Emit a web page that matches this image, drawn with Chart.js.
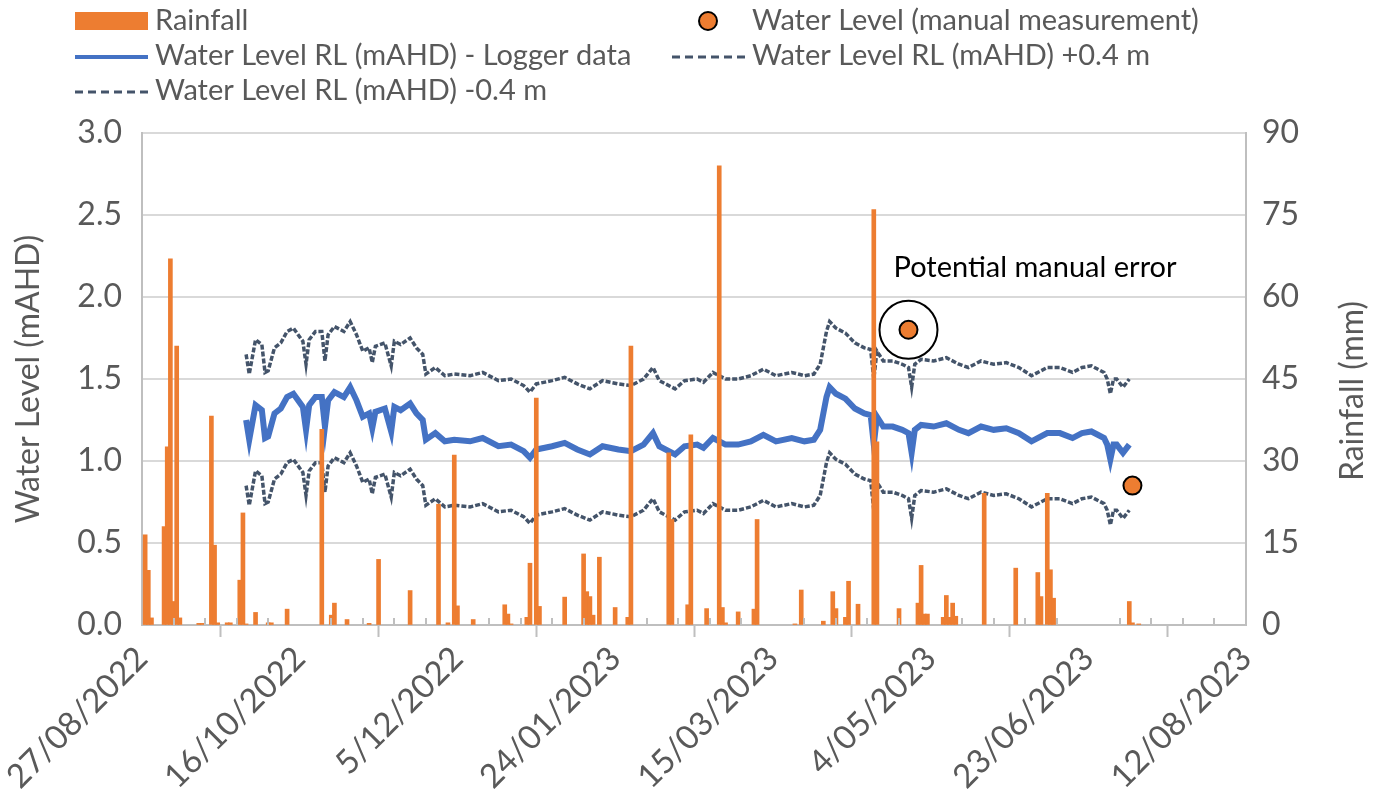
<!DOCTYPE html>
<html>
<head>
<meta charset="utf-8">
<script src="https://cdn.jsdelivr.net/npm/chart.js@4.4.0/dist/chart.umd.min.js"></script>
<style>
  body { margin: 0; background: #fff; }
  #wrap { width: 1386px; height: 806px; }
</style>
</head>
<body>
<div id="wrap"><canvas id="chart" width="1386" height="806"></canvas></div>
<script>
// x values are days counted from 27/08/2022
const startDate = new Date(2022, 7, 27)
const xTicks = [0, 50, 100, 150, 200, 250, 300, 350]

// daily rainfall (mm)
const rainDays = [1, 2, 3, 7, 8, 9, 10, 11, 12, 18, 19, 22, 23, 24, 27, 28, 31, 32, 33, 36,
  40, 41, 46, 57, 60, 61, 65, 72, 75, 85, 94, 97, 99, 100, 105, 115, 116, 117, 122, 123,
  125, 126, 134, 140, 141, 142, 143, 145, 150, 154, 155, 167, 168, 173, 174, 179, 183, 184, 185, 189,
  194, 195, 207, 209, 216, 219, 220, 223, 224, 227, 232, 233, 240, 246, 247, 248, 249, 254, 255, 256,
  257, 258, 267, 277, 284, 285, 287, 288, 289, 313, 314, 316]
const rainMm = [16.5, 10.0, 1.3, 18.0, 32.6, 67.0, 4.3, 51.0, 1.3, 0.3, 0.3, 38.2, 14.6, 0.4, 0.4, 0.4, 8.2, 20.5, 0.2, 2.3,
  0.4, 0.4, 2.9, 35.8, 1.8, 4.0, 1.0, 0.3, 12.0, 6.3, 22.1, 0.4, 31.1, 3.5, 1.0, 3.7, 2.0, 0.2, 1.4, 11.3,
  41.5, 3.4, 5.1, 13.0, 6.1, 5.2, 1.8, 12.4, 3.2, 1.4, 51.0, 31.5, 19.3, 3.7, 34.8, 3.0, 84.0, 3.2, 0.4, 2.4,
  2.9, 19.3, 0.2, 6.4, 0.7, 6.1, 3.0, 1.4, 8.0, 3.8, 76.0, 33.5, 3.0, 4.0, 10.9, 2.0, 2.0, 1.4, 5.4, 1.4,
  4.0, 1.6, 24.1, 10.4, 9.6, 5.2, 24.1, 10.1, 4.9, 4.3, 0.4, 0.2]

// logger water level (mAHD)
const loggerDays = [33, 34, 36, 38, 39, 40, 42, 44, 46, 48, 51, 52, 53, 55, 57, 58, 59, 61, 64, 66,
  68, 70, 72, 73, 74, 77, 79, 80, 82, 85, 87, 89, 90, 93, 96, 99, 104, 108, 113, 117,
  121, 123, 125, 130, 134, 138, 142, 146, 151, 155, 159, 162, 164, 169, 172, 176, 178, 181, 185, 189,
  193, 197, 201, 206, 210, 213, 215, 217, 218, 220, 223, 226, 229, 231, 232, 233, 235, 238, 241, 243,
  244, 245, 247, 251, 255, 259, 262, 266, 270, 274, 278, 282, 287, 291, 295, 298, 301, 305, 306, 307,
  308, 309, 311, 313]
const loggerLevel = [1.25, 1.13, 1.34, 1.31, 1.14, 1.15, 1.29, 1.32, 1.39, 1.41, 1.33, 1.19, 1.34, 1.39, 1.39, 1.21, 1.37, 1.42, 1.39, 1.45,
  1.37, 1.27, 1.29, 1.20, 1.30, 1.32, 1.18, 1.33, 1.31, 1.35, 1.29, 1.25, 1.13, 1.17, 1.12, 1.13, 1.12, 1.14, 1.09, 1.10,
  1.06, 1.02, 1.07, 1.09, 1.11, 1.07, 1.04, 1.09, 1.07, 1.06, 1.10, 1.17, 1.09, 1.04, 1.09, 1.10, 1.08, 1.14, 1.10, 1.10,
  1.12, 1.16, 1.12, 1.14, 1.12, 1.13, 1.19, 1.39, 1.45, 1.41, 1.38, 1.32, 1.29, 1.28, 1.10, 1.27, 1.21, 1.21, 1.19, 1.17,
  1.05, 1.19, 1.22, 1.21, 1.23, 1.19, 1.17, 1.21, 1.19, 1.20, 1.17, 1.12, 1.17, 1.17, 1.14, 1.17, 1.18, 1.14, 1.10, 1.01,
  1.10, 1.10, 1.05, 1.10]
const upperLevel = [1.65, 1.53, 1.74, 1.71, 1.54, 1.55, 1.69, 1.72, 1.79, 1.81, 1.73, 1.59, 1.74, 1.79, 1.79, 1.61, 1.77, 1.82, 1.79, 1.85,
  1.77, 1.67, 1.69, 1.60, 1.70, 1.72, 1.58, 1.73, 1.71, 1.75, 1.69, 1.65, 1.53, 1.57, 1.52, 1.53, 1.52, 1.54, 1.49, 1.50,
  1.46, 1.42, 1.47, 1.49, 1.51, 1.47, 1.44, 1.49, 1.47, 1.46, 1.50, 1.57, 1.49, 1.44, 1.49, 1.50, 1.48, 1.54, 1.50, 1.50,
  1.52, 1.56, 1.52, 1.54, 1.52, 1.53, 1.59, 1.79, 1.85, 1.81, 1.78, 1.72, 1.69, 1.68, 1.50, 1.67, 1.61, 1.61, 1.59, 1.57,
  1.45, 1.59, 1.62, 1.61, 1.63, 1.59, 1.57, 1.61, 1.59, 1.60, 1.57, 1.52, 1.57, 1.57, 1.54, 1.57, 1.58, 1.54, 1.50, 1.41,
  1.50, 1.50, 1.45, 1.50]
const lowerLevel = [0.85, 0.73, 0.94, 0.91, 0.74, 0.75, 0.89, 0.92, 0.99, 1.01, 0.93, 0.79, 0.94, 0.99, 0.99, 0.81, 0.97, 1.02, 0.99, 1.05,
  0.97, 0.87, 0.89, 0.80, 0.90, 0.92, 0.78, 0.93, 0.91, 0.95, 0.89, 0.85, 0.73, 0.77, 0.72, 0.73, 0.72, 0.74, 0.69, 0.70,
  0.66, 0.62, 0.67, 0.69, 0.71, 0.67, 0.64, 0.69, 0.67, 0.66, 0.70, 0.77, 0.69, 0.64, 0.69, 0.70, 0.68, 0.74, 0.70, 0.70,
  0.72, 0.76, 0.72, 0.74, 0.72, 0.73, 0.79, 0.99, 1.05, 1.01, 0.98, 0.92, 0.89, 0.88, 0.70, 0.87, 0.81, 0.81, 0.79, 0.77,
  0.65, 0.79, 0.82, 0.81, 0.83, 0.79, 0.77, 0.81, 0.79, 0.80, 0.77, 0.72, 0.77, 0.77, 0.74, 0.77, 0.78, 0.74, 0.70, 0.61,
  0.70, 0.70, 0.65, 0.70]

// manual dip readings
const manualDays = [243, 314]
const manualLevel = [1.80, 0.85]
const flaggedDays = [243]
const flaggedLevel = [1.80]
const flagText = 'Potential manual error'

const grey = '#595959'
const fontFam = 'Lato'

function pts(xs, ys) {
  return xs.map((x, i) => ({x: x, y: ys[i]}))
}

function dateLabel(v) {
  const d = new Date(startDate.getTime())
  d.setDate(d.getDate() + v)
  const mm = String(d.getMonth() + 1).padStart(2, '0')
  return d.getDate() + '/' + mm + '/' + d.getFullYear()
}

// small inside ticks every 10 days, like excel minor ticks
const minorTicks = {
  id: 'minorTicks',
  afterDatasetsDraw(chart) {
    const xs = chart.scales.x
    const ctx = chart.ctx
    const bottom = chart.chartArea.bottom
    ctx.save()
    ctx.strokeStyle = '#BFBFBF'
    ctx.lineWidth = 2
    for (let d = 10; d < 350; d += 10) {
      if (d % 50 == 0) continue
      const px = Math.round(xs.getPixelForValue(d))
      ctx.beginPath()
      ctx.moveTo(px, bottom)
      ctx.lineTo(px, bottom - 7)
      ctx.stroke()
    }
    ctx.restore()
  }
}

// two column legend at the top
const sheetLegend = {
  id: 'sheetLegend',
  afterDraw(chart) {
    const ctx = chart.ctx
    const ds = chart.data.datasets
    const slots = [[75, 21], [672, 21], [75, 56], [672, 56], [75, 91]]
    ctx.save()
    ctx.font = '29px ' + fontFam
    ctx.textBaseline = 'middle'
    ctx.textAlign = 'left'
    for (let i = 0; i < slots.length; i++) {
      const [x, y] = slots[i]
      const d = ds[i]
      if (d.type == 'bar') {
        ctx.fillStyle = d.backgroundColor
        ctx.fillRect(x, y - 9, 73, 18)
      } else if (d.type == 'scatter') {
        ctx.beginPath()
        ctx.arc(x + 36, y, 9, 0, Math.PI * 2)
        ctx.fillStyle = d.backgroundColor
        ctx.fill()
        ctx.lineWidth = 2
        ctx.strokeStyle = '#000'
        ctx.stroke()
      } else {
        ctx.beginPath()
        ctx.setLineDash(d.borderDash ? [8, 5] : [])
        ctx.lineWidth = d.borderDash ? 3 : 4
        ctx.strokeStyle = d.borderColor
        ctx.moveTo(x, y + 1)
        ctx.lineTo(x + 73, y + 1)
        ctx.stroke()
        ctx.setLineDash([])
      }
      ctx.fillStyle = grey
      ctx.fillText(d.label, x + 80, y)
    }
    ctx.restore()
  }
}

// annotation text + right axis title reading bottom to top
const extraText = {
  id: 'extraText',
  afterDraw(chart) {
    const ctx = chart.ctx
    const px = chart.scales.x.getPixelForValue(flaggedDays[0])
    const py = chart.scales.y.getPixelForValue(flaggedLevel[0])
    ctx.save()
    ctx.font = '29px ' + fontFam
    ctx.fillStyle = '#000'
    ctx.textBaseline = 'middle'
    ctx.fillText(flagText, px - 15, py - 62)
    const r = chart.scales.y1
    ctx.translate(r.right - 33, (r.top + r.bottom) / 2 + 12)
    ctx.rotate(-Math.PI / 2)
    ctx.font = '32px ' + fontFam
    ctx.fillStyle = grey
    ctx.textAlign = 'center'
    ctx.fillText('Rainfall (mm)', 0, 0)
    ctx.restore()
  }
}

const tickFont = {family: fontFam, size: 32}

new Chart(document.getElementById('chart'), {
  type: 'line',
  data: {
    datasets: [
      {type: 'bar', label: 'Rainfall', data: pts(rainDays, rainMm), yAxisID: 'y1',
        backgroundColor: '#ED7D31', barThickness: 4, order: 1},
      {type: 'scatter', label: 'Water Level (manual measurement)', data: pts(manualDays, manualLevel), yAxisID: 'y',
        pointRadius: 9, backgroundColor: '#ED7D31', borderColor: '#000', borderWidth: 2, order: 0},
      {type: 'line', label: 'Water Level RL (mAHD) - Logger data', data: pts(loggerDays, loggerLevel), yAxisID: 'y',
        borderColor: '#4472C4', borderWidth: 6, pointRadius: 0, tension: 0, order: 2},
      {type: 'line', label: 'Water Level RL (mAHD) +0.4 m', data: pts(loggerDays, upperLevel), yAxisID: 'y',
        borderColor: '#44546A', borderWidth: 3.5, borderDash: [5, 2], pointRadius: 0, tension: 0, order: 3},
      {type: 'line', label: 'Water Level RL (mAHD) -0.4 m', data: pts(loggerDays, lowerLevel), yAxisID: 'y',
        borderColor: '#44546A', borderWidth: 3.5, borderDash: [5, 2], pointRadius: 0, tension: 0, order: 3},
      {type: 'scatter', label: 'flag', data: pts(flaggedDays, flaggedLevel), yAxisID: 'y',
        pointRadius: 29, backgroundColor: 'rgba(0,0,0,0)', borderColor: '#000', borderWidth: 2, order: 0}
    ]
  },
  options: {
    responsive: false,
    animation: false,
    layout: {padding: {top: 133, left: 0, right: 0, bottom: 0}},
    plugins: {legend: {display: false}, tooltip: {enabled: false}},
    scales: {
      x: {
        type: 'linear', min: 0, max: 350, offset: false,
        afterBuildTicks: (s) => { s.ticks = xTicks.map(v => ({value: v})) },
        ticks: {autoSkip: false, minRotation: 45, maxRotation: 45, color: grey, font: {family: fontFam, size: 33}, padding: 2,
          callback: (v) => dateLabel(v)},
        grid: {drawOnChartArea: false, drawTicks: true, tickLength: 12, tickColor: '#BFBFBF', tickWidth: 2},
        border: {color: '#BFBFBF', width: 2},
        afterFit: (s) => { s.height = 181 }
      },
      y: {
        position: 'left', min: 0, max: 3,
        ticks: {stepSize: 0.5, color: grey, font: tickFont, padding: 20, callback: (v) => v.toFixed(1)},
        grid: {color: '#D9D9D9', lineWidth: 2, drawTicks: false},
        border: {color: '#BFBFBF', width: 2},
        title: {display: true, text: 'Water Level (mAHD)', color: grey, font: tickFont, padding: {top: 9}},
        afterFit: (s) => { s.width = 142 }
      },
      y1: {
        position: 'right', min: 0, max: 90,
        ticks: {stepSize: 15, color: grey, font: tickFont, padding: 16},
        grid: {drawOnChartArea: false, drawTicks: false},
        border: {color: '#BFBFBF', width: 2},
        afterFit: (s) => { s.width = 140 }
      }
    }
  },
  plugins: [minorTicks, sheetLegend, extraText]
})
</script>
</body>
</html>
